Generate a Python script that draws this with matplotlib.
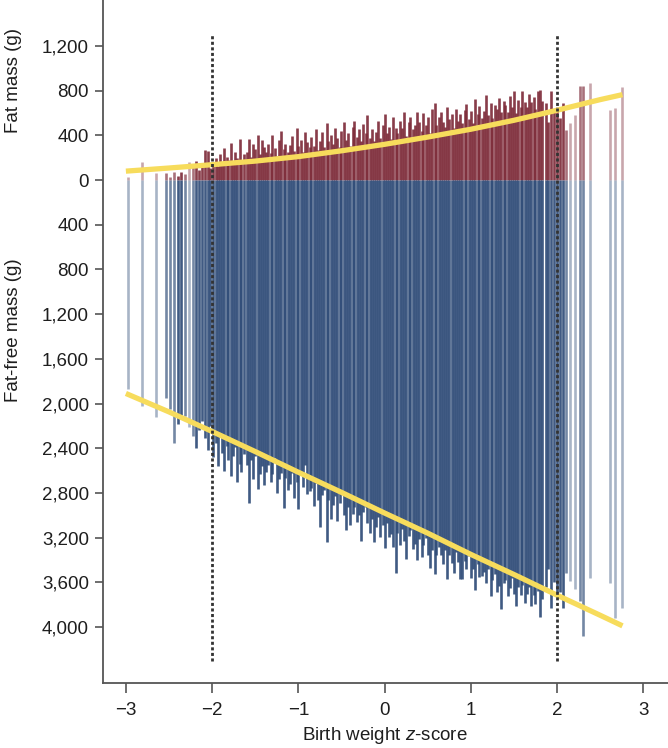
import numpy as np
import matplotlib
matplotlib.use("Agg")
import matplotlib.pyplot as plt
from matplotlib.colors import to_rgba

plt.rcParams['font.family'] = ['Liberation Sans', 'DejaVu Sans']
plt.rcParams['mathtext.fontset'] = 'custom'
plt.rcParams['mathtext.it'] = 'Liberation Sans:italic'
plt.rcParams['mathtext.rm'] = 'Liberation Sans'

# birth weight z-score of each infant, fat mass (g) and fat-free mass (g)
bar_z = [
    -2.97, -2.81, -2.65, -2.53, -2.49, -2.44, -2.40, -2.36, -2.32, -2.27,
    -2.22, -2.19, -2.15, -2.12, -2.08, -2.05, -2.02, -1.99, -1.96, -1.93,
    -1.91, -1.88, -1.86, -1.83, -1.81, -1.78, -1.76, -1.73, -1.71, -1.68,
    -1.66, -1.63,
    -1.60, -1.57, -1.55, -1.52, -1.50, -1.47, -1.45, -1.42, -1.40, -1.37,
    -1.35, -1.32, -1.30, -1.27, -1.25, -1.22, -1.20, -1.17, -1.15, -1.12,
    -1.10, -1.07, -1.05, -1.02, -1.00, -0.97, -0.95, -0.92, -0.90, -0.87,
    -0.85, -0.82, -0.80, -0.77, -0.75, -0.72, -0.70, -0.67, -0.65, -0.62,
    -0.60, -0.57, -0.55, -0.52, -0.50, -0.47, -0.45, -0.42, -0.40, -0.37,
    -0.35, -0.32, -0.30, -0.27, -0.25, -0.22, -0.20, -0.17, -0.15, -0.12,
    -0.10, -0.07, -0.05, -0.02, 0.00, 0.03, 0.05, 0.08, 0.10, 0.13,
    0.15, 0.18, 0.20, 0.23, 0.25, 0.28, 0.30, 0.33, 0.35, 0.38,
    0.40, 0.43, 0.45, 0.48, 0.50, 0.53, 0.55, 0.58, 0.60, 0.63,
    0.65, 0.68, 0.70, 0.73, 0.75, 0.78, 0.80, 0.83, 0.85, 0.88,
    0.90, 0.93, 0.95, 0.98, 1.00, 1.03, 1.05, 1.08, 1.10, 1.13,
    1.15, 1.18, 1.20, 1.23, 1.25, 1.28, 1.30, 1.33, 1.35, 1.38,
    1.40, 1.43, 1.45, 1.48, 1.50, 1.53, 1.55, 1.58, 1.60, 1.63,
    1.65, 1.68, 1.70, 1.73, 1.75, 1.78, 1.80, 1.83,
    1.87, 1.90, 1.93, 1.96, 2.00, 2.03, 2.07, 2.10, 2.15, 2.21,
    2.27, 2.30, 2.38, 2.61, 2.67, 2.75,
]
fat_mass = [
    25, 160, 65, 62, 30, 72, 40, 75, 55, 160,
    120, 170, 90, 140, 270, 260, 110, 150, 200, 130,
    230, 160, 290, 210, 180, 330, 150, 250, 200, 370,
    170, 230,
    253, 367, 205, 320, 280, 400, 235, 360, 298, 250,
    322, 243, 404, 285, 217, 360, 435, 275, 327, 250,
    313, 395, 256, 465, 302, 355, 247, 428, 341, 295,
    387, 308, 460, 272, 354, 426, 298, 510, 349, 400,
    322, 465, 375, 298, 440, 522, 357, 420, 303, 476,
    529, 382, 455, 348, 501, 424, 586, 381, 453, 346,
    428, 530, 374, 495, 590, 424, 476, 369, 563, 466,
    419, 532, 465, 608, 398, 520, 563, 455, 497, 609,
    522, 435, 597, 489, 563, 418, 640, 690, 489, 563,
    606, 519, 472, 656, 545, 595, 468, 640, 532, 590,
    513, 627, 680, 551, 618, 513, 725, 590, 663, 558,
    622, 765, 580, 693, 556, 670, 633, 736, 609, 709,
    672, 607, 750, 650, 795, 597, 719, 652, 796, 701,
    655, 768, 700, 742, 633, 800, 807, 707,
    690, 520, 800, 610, 650, 560, 690, 450, 510, 580,
    843, 843, 870, 628, 645, 834,
]
fat_free_mass = [
    1870, 2020, 2125, 1955, 2050, 2350, 2180, 2100, 2110, 2210,
    2290, 2395, 2240, 2160, 2310, 2420, 2200, 2480, 2350, 2560,
    2270, 2440, 2600, 2380, 2510, 2650, 2470, 2390, 2700, 2540,
    2610, 2450,
    2546, 2887, 2504, 2675, 2472, 2763, 2631, 2562, 2729, 2610,
    2547, 2705, 2635, 2491, 2804, 2675, 2622, 2933, 2670, 2771,
    2719, 2618, 2845, 2703, 2945, 2626, 2744, 2554, 2811, 2782,
    2760, 2919, 2707, 2864, 3106, 2817, 2775, 3240, 2863, 3034,
    2911, 2825, 3049, 2890, 2798, 2998, 3136, 2927, 3084, 2985,
    2922, 3059, 2996, 3234, 2967, 2926, 3073, 3160, 3036, 3236,
    3104, 3018, 3192, 3083, 3290, 3071, 3198, 3169, 3287, 3517,
    3155, 3269, 3127, 3231, 3393, 3182, 3130, 3299, 3258, 3399,
    3216, 3373, 3270, 3201, 3353, 3475, 3313, 3522, 3359, 3280,
    3357, 3435, 3311, 3573, 3354, 3432, 3520, 3325, 3423, 3571,
    3568, 3413, 3485, 3366, 3565, 3481, 3673, 3434, 3551, 3542,
    3510, 3608, 3478, 3719, 3576, 3525, 3685, 3632, 3843, 3604,
    3581, 3722, 3649, 3560, 3708, 3809, 3646, 3717, 3624, 3785,
    3702, 3643, 3810, 3711, 3799, 3677, 3907, 3748,
    3640, 3480, 3830, 3600, 3700, 3690, 3830, 3520, 3590, 3660,
    3770, 4080, 3560, 3605, 3920, 3830,
]

# fitted curves
fit_z = [-3.0, -2.5, -2.0, -1.5, -1.0, -0.5, 0.0, 0.5, 1.0, 1.5, 2.0, 2.5, 2.76]
fit_fat = [80, 108, 138, 170, 210, 262, 320, 385, 455, 535, 625, 720, 765]
fit_ffm = [1910, 2075, 2250, 2430, 2615, 2795, 2980, 3160, 3350, 3530, 3715, 3895, 3990]

cutoffs = [-2, 2]
fat_ticks = [0, 400, 800, 1200]
ffm_ticks = [400, 800, 1200, 1600, 2000, 2400, 2800, 3200, 3600, 4000]

z = np.array(bar_z)
fat = np.array(fat_mass)
ffm = np.array(fat_free_mass)

# overlapping lines look darker where infants are dense
near = np.array([np.sum(np.abs(z - v) < 0.045) - 1 for v in z])
alpha = np.clip(0.42 + 0.25 * near, 0.42, 0.95)
red_cols = [to_rgba('#7E2C3A', a) for a in alpha]
blue_cols = [to_rgba('#2F4C78', a) for a in alpha]

fig = plt.figure(figsize=(6.68, 7.48), dpi=100)
ax = fig.add_axes([0.154, 0.087, 0.846, 0.913])

ax.vlines(z, 0, fat, colors=red_cols, linewidth=1.9)
ax.vlines(z, 0, -ffm, colors=blue_cols, linewidth=1.9)

ax.plot(fit_z, fit_fat, color='#F7DC5C', linewidth=3.8, solid_capstyle='butt', zorder=3)
ax.plot(fit_z, [-v for v in fit_ffm], color='#F7DC5C', linewidth=3.8,
        solid_capstyle='butt', zorder=3)

for c in cutoffs:
    ax.vlines(c, -4305, 1300, colors='#333333', linewidth=2.0,
              linestyles=(0, (1.1, 0.9)), zorder=4)

ax.set_xlim(-3.267, 3.288)
ax.set_ylim(-4501, 1612)
ax.set_xticks([-3, -2, -1, 0, 1, 2, 3])
yt = [-v for v in ffm_ticks[::-1]] + fat_ticks
ax.set_yticks(yt)
ax.set_yticklabels([f"{abs(v):,}" for v in yt])

for s in ['top', 'right']:
    ax.spines[s].set_visible(False)
for s in ['left', 'bottom']:
    ax.spines[s].set_color('#555555')
    ax.spines[s].set_linewidth(1.3)
ax.tick_params(direction='out', length=6, width=1.2, color='#555555',
               labelsize=13.5, labelcolor='#1e1e1e')
ax.tick_params(axis='y', pad=4)
ax.tick_params(axis='x', length=7, pad=7)

fig.text(0.020, 0.893, 'Fat mass (g)', rotation=90, ha='center', va='center',
         fontsize=13.5, color='#1e1e1e')
fig.text(0.020, 0.559, 'Fat-free mass (g)', rotation=90, ha='center', va='center',
         fontsize=13.5, color='#1e1e1e')
fig.text(0.576, 0.017, 'Birth weight $z$-score', ha='center', va='center',
         fontsize=13.5, color='#1e1e1e')

fig.savefig('out.png', dpi=100)
